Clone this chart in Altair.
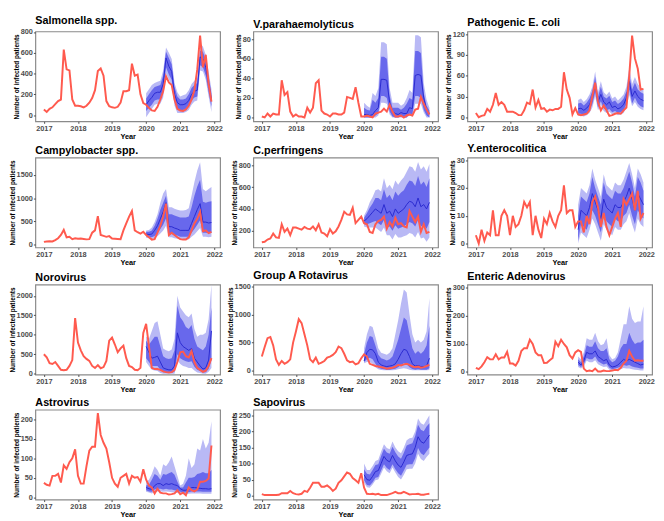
import altair as alt
import pandas as pd

# ---------------- data (monthly, Jan 2017 - Dec 2021; predictions Jan 2020 - Dec 2021) -------------
years = [2017, 2018, 2019, 2020, 2021, 2022]

salm_obs = [54,30,60,75,105,135,150,630,440,430,150,90,
            90,85,75,90,120,165,240,425,450,380,135,85,
            75,70,80,120,230,230,240,495,380,390,200,115,
            100,70,45,40,80,150,230,375,315,290,150,60,
            45,40,55,90,150,240,440,765,460,580,300,130]
salm_pred = [100,140,170,210,220,220,300,550,470,420,200,120,100,100,110,140,200,230,240,560,540,460,300,150]
salm_lo80 = [40,70,100,140,150,150,220,460,390,340,130,60,50,50,60,90,140,170,180,480,460,380,220,80]
salm_hi80 = [160,200,240,270,280,290,380,610,550,490,270,180,150,150,160,200,260,290,310,620,610,530,370,210]
salm_lo95 = [-20,20,60,100,110,110,170,400,340,290,90,20,20,20,30,50,100,130,140,430,420,340,180,30]
salm_hi95 = [210,250,290,310,320,330,430,650,600,540,310,220,180,190,200,240,300,330,360,690,660,580,420,250]

vp_obs = [1,0,4,1,4,3,3,38,23,26,6,1,
          3,1,1,0,10,5,10,35,38,7,4,3,
          1,4,4,3,3,5,21,20,19,31,15,1,
          1,2,1,0,4,5,6,9,6,13,6,1,
          1,2,0,2,3,2,8,9,21,14,8,3]
vp_pred = [3,3,2,3,7,10,39,39,38,15,6,4,3,5,4,4,10,9,43,44,43,20,8,4]
vp_lo80 = [0,0,0,0,2,4,22,22,20,6,1,0,0,1,0,0,4,3,22,22,20,8,2,0]
vp_hi80 = [10,8,7,18,15,20,62,62,60,22,10,10,10,8,10,14,20,18,68,68,66,25,12,7]
vp_lo95 = [0,0,0,0,0,2,15,15,14,3,0,0,0,0,0,0,2,1,14,14,14,5,0,0]
vp_hi95 = [15,12,10,25,22,30,77,77,75,30,15,15,15,12,14,20,28,25,84,84,82,35,18,10]

ec_obs = [6,0,2,3,12,8,18,35,18,22,18,8,
          8,8,6,3,3,10,21,19,40,14,25,12,
          13,8,11,10,12,12,15,65,40,28,4,13,
          4,3,4,5,10,30,50,22,10,17,10,2,
          3,5,6,5,10,14,60,118,85,70,40,41]
ec_pred = [12,13,10,13,18,28,48,22,33,22,18,22,14,16,12,14,18,28,52,30,38,30,26,24]
ec_lo80 = [5,5,4,6,10,19,36,14,23,13,10,12,7,9,6,7,10,19,40,20,28,20,16,14]
ec_hi80 = [20,21,17,21,27,38,58,30,44,30,27,31,22,24,19,22,27,37,62,40,50,40,36,34]
ec_lo95 = [2,2,1,3,6,14,30,10,18,9,6,8,4,6,3,4,6,14,32,16,22,15,12,10]
ec_hi95 = [25,27,22,26,33,44,66,36,52,36,32,37,27,30,24,28,33,44,72,48,58,48,43,40]

cb_obs = [50,60,65,60,90,130,200,310,150,160,110,130,
          120,125,115,105,110,250,300,610,200,180,160,175,
          125,120,115,110,300,450,600,720,300,260,230,270,
          200,150,100,110,250,400,600,880,200,250,200,150,
          110,100,100,150,300,450,550,700,280,300,240,270]
cb_pred = [220,210,220,300,400,550,700,900,380,380,350,330,300,300,300,300,450,600,750,880,480,480,460,470]
cb_lo80 = [170,160,150,180,240,330,420,560,220,220,200,190,160,160,160,160,250,330,420,520,250,250,240,250]
cb_hi80 = [270,270,300,400,550,750,900,1050,650,650,620,600,580,580,580,600,800,1050,1250,1400,920,900,920,930]
cb_lo95 = [140,130,110,130,170,230,300,400,150,150,130,120,100,100,100,100,160,210,280,350,160,160,150,160]
cb_hi95 = [300,310,360,480,650,900,1100,1200,800,800,770,750,730,730,740,780,1050,1350,1600,1780,1200,1150,1200,1240]

cp_obs = [95,100,120,130,175,140,135,260,190,220,160,230,
          230,220,210,235,220,215,240,205,260,185,175,150,
          215,175,195,240,300,375,350,345,410,270,300,330,
          270,260,190,180,260,290,300,330,220,280,240,320,
          260,270,240,230,380,330,280,330,190,260,180,190]
cp_pred = [290,310,340,370,400,380,360,440,360,380,330,400,360,380,400,440,470,460,420,500,420,440,400,460]
cp_lo80 = [260,260,270,280,290,270,250,300,230,240,200,250,220,230,240,260,280,270,240,300,240,250,220,280]
cp_hi80 = [320,360,410,450,500,500,480,580,500,530,480,560,520,550,570,620,660,650,610,700,620,650,600,680]
cp_lo95 = [240,230,230,230,230,210,190,230,160,160,120,170,140,140,150,160,180,170,140,190,130,140,100,140]
cp_hi95 = [340,390,460,510,570,580,560,680,590,620,580,660,620,660,690,740,790,780,740,830,760,790,740,810]

ye_obs = [3,0,5,1,4,3,12,3,3,10,12,10,
          3,10,6,7,10,15,13,15,3,10,5,2,
          9,7,11,8,6,10,12,21,11,12,12,6,
          8,8,4,10,7,15,17,13,6,11,6,3,
          6,9,11,6,16,14,16,18,12,19,9,11]
ye_pred = [5,12,11,10,13,18,15,12,9,16,13,12,11,14,13,13,15,17,20,16,12,18,16,14]
ye_lo80 = [1,7,6,5,8,12,10,7,4,10,8,7,6,9,8,8,10,11,14,10,7,12,10,9]
ye_hi80 = [10,17,16,15,18,24,20,17,14,22,18,17,16,19,18,18,20,23,26,22,17,24,22,19]
ye_lo95 = [0,4,3,2,5,9,7,4,1,7,5,4,3,6,5,5,7,8,11,7,4,9,7,6]
ye_hi95 = [14,20,19,18,21,27,23,20,17,25,21,20,19,22,21,21,23,26,29,25,20,27,25,22]

nv_obs = [500,420,270,250,300,200,100,90,100,200,350,1430,
          800,600,450,380,330,200,150,220,140,170,330,850,
          930,750,550,650,720,400,200,170,100,90,150,1050,
          1280,700,150,120,120,100,60,40,30,40,100,300,
          550,570,450,420,580,300,150,100,50,80,200,400]
nv_pred = [700,550,400,420,450,300,150,120,100,100,200,1050,800,700,650,600,650,400,300,200,120,150,350,1100]
nv_lo80 = [400,300,200,200,200,100,40,30,20,20,60,500,400,350,320,300,320,180,100,70,30,40,120,350]
nv_hi80 = [850,750,850,950,950,700,450,400,380,400,600,1750,1450,1350,1200,1150,1250,900,700,650,600,700,1000,1700]
nv_lo95 = [300,200,100,80,70,20,0,0,0,0,0,350,250,200,180,150,150,80,30,20,0,0,50,150]
nv_hi95 = [950,900,1100,1300,1350,1000,650,600,580,620,900,2000,1700,1600,1500,1450,1550,1150,950,1000,1000,1050,1400,2290]

rv_obs = [250,420,580,600,450,200,100,170,120,150,200,500,
          700,920,850,650,450,200,150,230,120,140,170,230,
          250,280,330,430,400,300,180,150,160,110,130,220,
          290,250,120,100,80,70,60,50,30,40,50,70,
          100,90,110,120,100,70,60,70,50,60,80,100]
rv_pred = [170,320,380,370,300,150,100,80,70,80,90,120,200,300,380,360,250,120,80,90,70,70,80,220]
rv_lo80 = [150,200,230,200,120,50,30,20,15,15,20,30,60,100,130,110,60,25,15,20,15,15,15,40]
rv_hi80 = [300,500,620,600,450,280,220,200,180,200,250,400,550,750,950,900,650,400,300,350,300,350,450,800]
rv_lo95 = [130,150,150,120,60,20,10,5,5,5,5,10,20,30,40,30,15,5,5,5,5,5,5,10]
rv_hi95 = [400,650,800,780,600,400,320,300,280,320,400,650,900,1200,1450,1400,1000,650,500,550,500,550,700,1300]

ad_obs = [15,10,20,35,53,45,45,63,45,52,52,72,
          30,30,23,40,75,85,85,115,100,70,60,60,
          32,33,42,50,108,92,115,100,88,60,48,70,
          78,72,12,3,5,3,12,2,2,5,3,3,
          5,8,6,15,30,40,75,55,40,42,40,40]
ad_pred = [35,25,40,70,65,65,75,55,48,40,45,25,18,20,25,35,45,40,45,40,35,30,25,28]
ad_lo80 = [25,18,28,50,45,45,55,38,32,27,30,15,10,12,15,20,25,22,25,20,17,15,12,12]
ad_hi80 = [45,35,55,95,90,90,110,85,75,75,85,45,35,40,55,85,100,100,140,115,100,105,105,115]
ad_lo95 = [18,12,20,40,35,35,42,28,22,18,20,8,5,6,8,10,14,12,12,10,8,7,5,5]
ad_hi95 = [55,45,70,120,115,115,140,110,95,100,120,60,45,50,70,120,170,170,235,190,175,180,180,235]

as_obs = [37,32,30,55,55,60,38,82,73,90,100,123,
          55,35,35,80,120,130,130,216,160,140,125,90,
          50,35,27,50,55,60,35,55,50,52,40,72,
          45,30,25,10,22,12,10,10,7,8,10,18,
          8,12,5,25,18,15,20,40,40,42,48,133]
as_pred = [25,22,20,30,35,35,30,35,33,35,32,30,22,18,18,20,25,25,24,23,22,22,21,22]
as_lo80 = [18,15,14,20,22,22,20,22,20,20,18,17,14,12,12,13,15,15,15,15,14,14,14,14]
as_hi80 = [30,32,45,60,55,45,60,58,62,65,58,40,25,25,38,50,50,52,60,62,65,62,62,70]
as_lo95 = [14,12,10,14,15,15,14,15,14,13,12,11,10,8,8,9,10,10,10,10,9,9,9,9]
as_hi95 = [40,45,60,80,70,55,85,80,90,105,80,55,30,35,55,100,75,85,125,120,150,125,140,195]

sp_obs = [5,2,2,2,2,2,3,8,8,8,15,8,
          5,4,6,15,12,25,40,40,40,28,28,32,
          25,15,22,40,48,60,72,68,55,48,40,70,
          25,6,5,6,4,6,2,2,2,5,8,12,
          8,8,12,8,4,5,5,6,3,3,5,6]
sp_pred = [65,50,48,60,75,78,100,122,110,105,125,108,95,88,105,125,128,130,150,183,168,163,175,188]
sp_lo80 = [48,33,32,42,56,58,78,98,86,80,98,82,70,62,78,96,98,98,116,148,132,126,138,150]
sp_hi80 = [82,68,66,80,95,98,123,146,134,130,152,135,122,115,133,156,160,163,185,220,205,200,215,225]
sp_lo95 = [40,26,25,35,48,50,68,88,76,70,88,72,58,50,65,82,84,84,100,130,114,108,120,130]
sp_hi95 = [100,80,80,92,108,112,137,160,148,144,168,150,138,132,150,172,178,180,200,240,225,220,235,250]

# ---------------- styling -------------------------------------------------------------------------
RED = "#FF5A4E"
BLUE = "#2A2AD0"
BAND80 = "#6868EC"
BAND95 = "#B9B9F5"
FONT = "Liberation Sans"
PW, PH = 189, 92

t_all = [2017 + i / 12 for i in range(60)]
t_pred = t_all[36:]


def panel(title, obs, pred, lo80, hi80, lo95, hi95, ydom, yticks):
    dfo = pd.DataFrame({"t": t_all, "v": obs})
    dfp = pd.DataFrame({"t": t_pred, "p": pred, "lo80": lo80, "hi80": hi80,
                        "lo95": lo95, "hi95": hi95})
    xs = alt.Scale(domain=[2016.75, 2022.17], nice=False, zero=False)
    xa = alt.Axis(values=years, format="d", title="Year", labelFlush=False)
    ys = alt.Scale(domain=ydom, nice=False, zero=False)
    ya = alt.Axis(values=yticks, format="d", title="Number of infected patients",
                  titleFontSize=6.6)
    x = alt.X("t:Q", scale=xs, axis=xa)
    b95 = alt.Chart(dfp).mark_area(color=BAND95, opacity=1, clip=True).encode(
        x=x, y=alt.Y("lo95:Q", scale=ys, axis=ya), y2="hi95:Q")
    b80 = alt.Chart(dfp).mark_area(color=BAND80, opacity=1, clip=True).encode(
        x=x, y=alt.Y("lo80:Q", scale=ys, axis=ya), y2="hi80:Q")
    pl = alt.Chart(dfp).mark_line(color=BLUE, strokeWidth=1, clip=True).encode(
        x=x, y=alt.Y("p:Q", scale=ys, axis=ya))
    ol = alt.Chart(dfo).mark_line(color=RED, strokeWidth=2, clip=True).encode(
        x=x, y=alt.Y("v:Q", scale=ys, axis=ya))
    return alt.layer(b95, b80, pl, ol).properties(
        width=PW, height=PH,
        title=alt.TitleParams(title, anchor="start", frame="group", fontSize=11,
                              font=FONT, fontWeight="bold", color="black", offset=2))


charts = [
    panel("Salmonella spp.", salm_obs, salm_pred, salm_lo80, salm_hi80, salm_lo95, salm_hi95,
          [-60, 805], [0, 200, 400, 600, 800]),
    panel("V.parahaemolyticus", vp_obs, vp_pred, vp_lo80, vp_hi80, vp_lo95, vp_hi95,
          [-4, 88], [0, 20, 40, 60, 80]),
    panel("Pathogenic E. coli", ec_obs, ec_pred, ec_lo80, ec_hi80, ec_lo95, ec_hi95,
          [-6, 124], [0, 30, 60, 90, 120]),
    panel("Campylobacter spp.", cb_obs, cb_pred, cb_lo80, cb_hi80, cb_lo95, cb_hi95,
          [-70, 1880], [0, 500, 1000, 1500]),
    panel("C.perfringens", cp_obs, cp_pred, cp_lo80, cp_hi80, cp_lo95, cp_hi95,
          [48, 870], [200, 400, 600, 800]),
    panel("Y.enterocolitica", ye_obs, ye_pred, ye_lo80, ye_hi80, ye_lo95, ye_hi95,
          [-1.4, 31], [0, 10, 20, 30]),
    panel("Norovirus", nv_obs, nv_pred, nv_lo80, nv_hi80, nv_lo95, nv_hi95,
          [-20, 2290], [0, 500, 1000, 1500, 2000]),
    panel("Group A Rotavirus", rv_obs, rv_pred, rv_lo80, rv_hi80, rv_lo95, rv_hi95,
          [-72, 1540], [0, 500, 1000, 1500]),
    panel("Enteric Adenovirus", ad_obs, ad_pred, ad_lo80, ad_hi80, ad_lo95, ad_hi95,
          [-9, 312], [0, 100, 200, 300]),
    panel("Astrovirus", as_obs, as_pred, as_lo80, as_hi80, as_lo95, as_hi95,
          [-6, 225], [0, 50, 100, 150, 200]),
    panel("Sapovirus", sp_obs, sp_pred, sp_lo80, sp_hi80, sp_lo95, sp_hi95,
          [-12, 267], [0, 50, 100, 150, 200, 250]),
]

chart = alt.concat(*charts, columns=3, spacing=2).properties(padding=0).configure_view(
    stroke="#8a8a8a", strokeWidth=1.2
).configure_axis(
    labelFont=FONT, labelFontWeight="bold", labelFontSize=7.5, labelColor="#4d4d4d",
    titleFont=FONT, titleFontWeight="bold", titleFontSize=7.5, titleColor="black",
    tickSize=2, tickColor="#4d4d4d", domain=False, grid=False,
    labelPadding=1, titlePadding=1
)

chart.save("out.html", embed_options={"renderer": "svg", "actions": False})
